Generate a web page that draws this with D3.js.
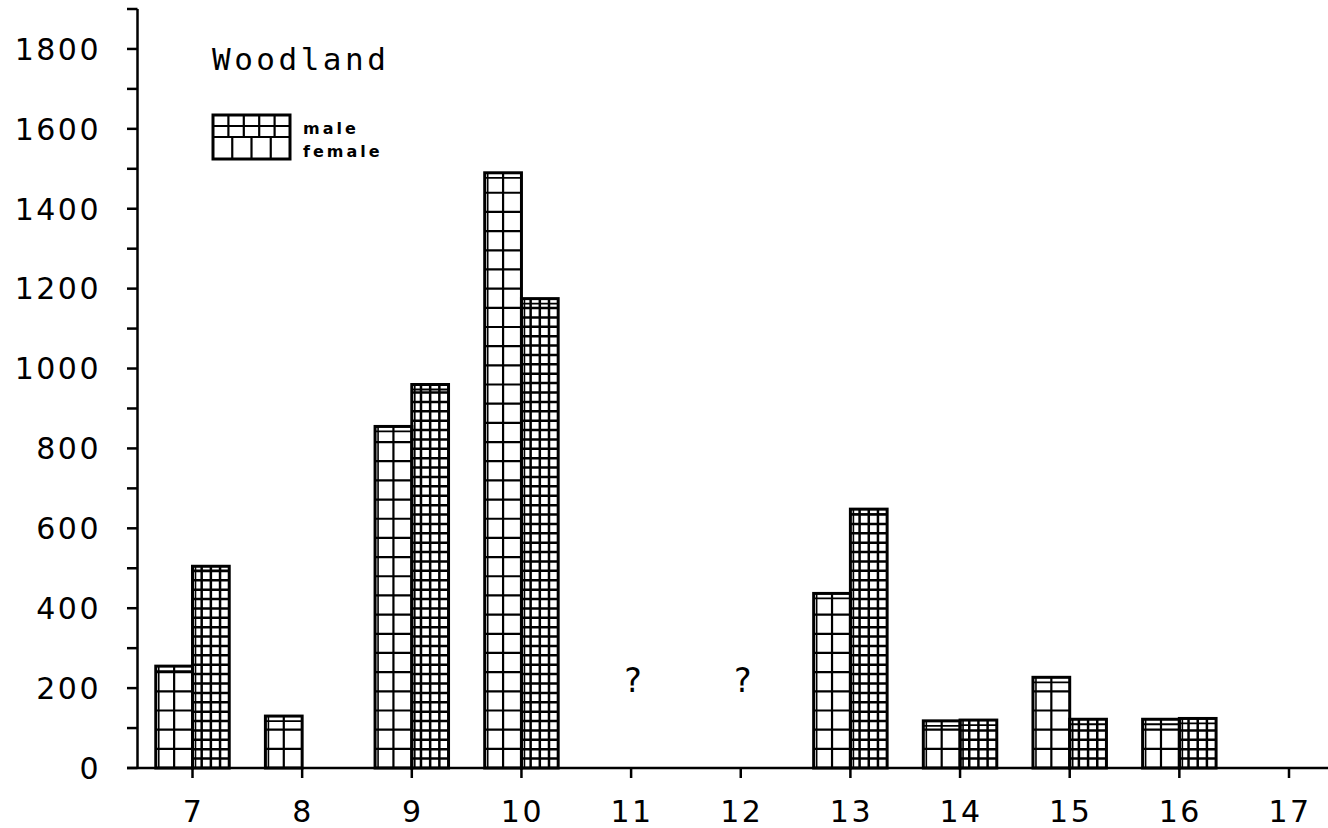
<!DOCTYPE html>
<html>
<head>
<meta charset="utf-8">
<script src="https://cdn.jsdelivr.net/npm/d3@7"></script>
<style>
  html, body { margin: 0; padding: 0; background: #fff; }
  svg { display: block; }
  .lbl { font-family: "DejaVu Sans", sans-serif; font-size: 30px; letter-spacing: 2.5px; fill: #000; }
</style>
</head>
<body>
<svg id="chart" width="1328" height="828"></svg>
<script>
// age classes on the x axis
const ages = [7, 8, 9, 10, 11, 12, 13, 14, 15, 16];
// left bars (coarse grid) = female, right bars (fine grid) = male
const femaleValues = [255, 130, 855, 1490, null, null, 437, 118, 227, 122];
const maleValues   = [505, null, 960, 1175, null, null, 648, 120, 122, 124];
const unknownAges = [11, 12];
const unknownLevel = 200;
const xTicks = [7, 8, 9, 10, 11, 12, 13, 14, 15, 16, 17];
const yLabelTicks = [0, 200, 400, 600, 800, 1000, 1200, 1400, 1600, 1800];
const yMinorTicks = d3.range(0, 2000, 100);
const title = "Woodland";

const svg = d3.select("#chart");
const W = 1328;

const x = d3.scaleLinear().domain([7, 17]).range([192.5, 1289]);
const y = d3.scaleLinear().domain([0, 1900]).range([768, 9]);

const barW = (x(8) - x(7)) * 0.335;
const coarse = { w: barW / 2, h: y(0) - y(48), lw: 2.2 };
const fine = { w: barW / 4, h: y(0) - y(23.5), lw: 2.5 };

// draw one grid-filled bar
function gridBar(g, x0, x1, yTop, yBase, cell) {
  const grp = g.append("g").attr("stroke", "#000").attr("fill", "none");
  // verticals
  for (let vx = x0 + cell.w; vx < x1 - 2; vx += cell.w) {
    grp.append("line").attr("x1", vx).attr("x2", vx).attr("y1", yTop).attr("y2", yBase)
      .attr("stroke-width", cell.lw);
  }
  // horizontals, counted up from the base
  for (let hy = yBase - cell.h; hy > yTop + 3; hy -= cell.h) {
    grp.append("line").attr("x1", x0).attr("x2", x1).attr("y1", hy).attr("y2", hy)
      .attr("stroke-width", cell.lw);
  }
  // plotter double line under the top edge and inside the left edge
  grp.append("line").attr("x1", x0).attr("x2", x1).attr("y1", yTop + 5).attr("y2", yTop + 5)
    .attr("stroke-width", 1.8);
  grp.append("line").attr("x1", x0 + 3).attr("x2", x0 + 3).attr("y1", yTop).attr("y2", yBase)
    .attr("stroke-width", 1.6);
  grp.append("rect").attr("x", x0).attr("y", yTop).attr("width", x1 - x0).attr("height", yBase - yTop)
    .attr("stroke-width", 3);
}

// bars
const bars = svg.append("g").attr("class", "bars");
ages.forEach((a, i) => {
  const f = femaleValues[i], m = maleValues[i];
  if (f != null) gridBar(bars, x(a) - barW, x(a), y(f), y(0), coarse);
  if (m != null) gridBar(bars, x(a), x(a) + barW, y(m), y(0), fine);
});

// question marks for missing classes
svg.append("g").selectAll("text")
  .data(unknownAges)
  .join("text")
    .attr("class", "lbl")
    .attr("x", d => x(d) + 2)
    .attr("y", y(unknownLevel) + 4)
    .attr("text-anchor", "middle")
    .style("font-size", "33px")
    .style("letter-spacing", "0px")
    .text("?");

// y axis
const yAxis = svg.append("g").attr("stroke", "#000").attr("stroke-width", 2.5);
yAxis.append("line").attr("x1", 137.5).attr("x2", 137.5).attr("y1", y(1900)).attr("y2", y(0));
yAxis.selectAll("line.tick")
  .data(yMinorTicks)
  .join("line")
    .attr("class", "tick")
    .attr("x1", 127).attr("x2", 137.5)
    .attr("y1", d => y(d)).attr("y2", d => y(d));

svg.append("g").selectAll("text")
  .data(yLabelTicks)
  .join("text")
    .attr("class", "lbl")
    .attr("x", 101)
    .attr("y", d => y(d))
    .attr("dy", "0.36em")
    .attr("text-anchor", "end")
    .text(d => d);

// x axis
const xAxis = svg.append("g").attr("stroke", "#000").attr("stroke-width", 2.5);
xAxis.append("line").attr("x1", 127).attr("x2", W).attr("y1", y(0)).attr("y2", y(0));
xAxis.selectAll("line.tick")
  .data(xTicks)
  .join("line")
    .attr("class", "tick")
    .attr("x1", d => x(d)).attr("x2", d => x(d))
    .attr("y1", y(0)).attr("y2", y(0) + 10);

svg.append("g").selectAll("text")
  .data(xTicks)
  .join("text")
    .attr("class", "lbl")
    .attr("x", d => x(d) + 1)
    .attr("y", 822)
    .attr("text-anchor", "middle")
    .text(d => d);

// title
svg.append("text")
  .attr("x", 212)
  .attr("y", 70)
  .style("font-family", "'DejaVu Sans Mono', monospace")
  .style("font-size", "31px")
  .style("letter-spacing", "3.5px")
  .text(title);

// legend
const lg = svg.append("g");
const lx0 = 213, lx1 = 290, ly0 = 115, lmid = 137, ly1 = 159;
const lgs = lg.append("g").attr("stroke", "#000").attr("fill", "none").attr("stroke-width", 2.2);
d3.range(1, 5).forEach(k => {
  const vx = lx0 + k * (lx1 - lx0) / 5;
  lgs.append("line").attr("x1", vx).attr("x2", vx).attr("y1", ly0).attr("y2", lmid);
});
lgs.append("line").attr("x1", lx0).attr("x2", lx1).attr("y1", (ly0 + lmid) / 2).attr("y2", (ly0 + lmid) / 2);
d3.range(1, 4).forEach(k => {
  const vx = lx0 + k * (lx1 - lx0) / 4;
  lgs.append("line").attr("x1", vx).attr("x2", vx).attr("y1", lmid).attr("y2", ly1);
});
lgs.append("line").attr("x1", lx0).attr("x2", lx1).attr("y1", lmid).attr("y2", lmid);
lgs.append("rect").attr("x", lx0).attr("y", ly0).attr("width", lx1 - lx0).attr("height", ly1 - ly0)
  .attr("stroke-width", 3);

lg.selectAll("text")
  .data([{ t: "male", y: 134 }, { t: "female", y: 157 }])
  .join("text")
    .attr("x", 303)
    .attr("y", d => d.y)
    .style("font-family", "'DejaVu Sans', sans-serif")
    .style("font-size", "16px")
    .style("font-weight", "bold")
    .style("letter-spacing", "3px")
    .text(d => d.t);
</script>
</body>
</html>
